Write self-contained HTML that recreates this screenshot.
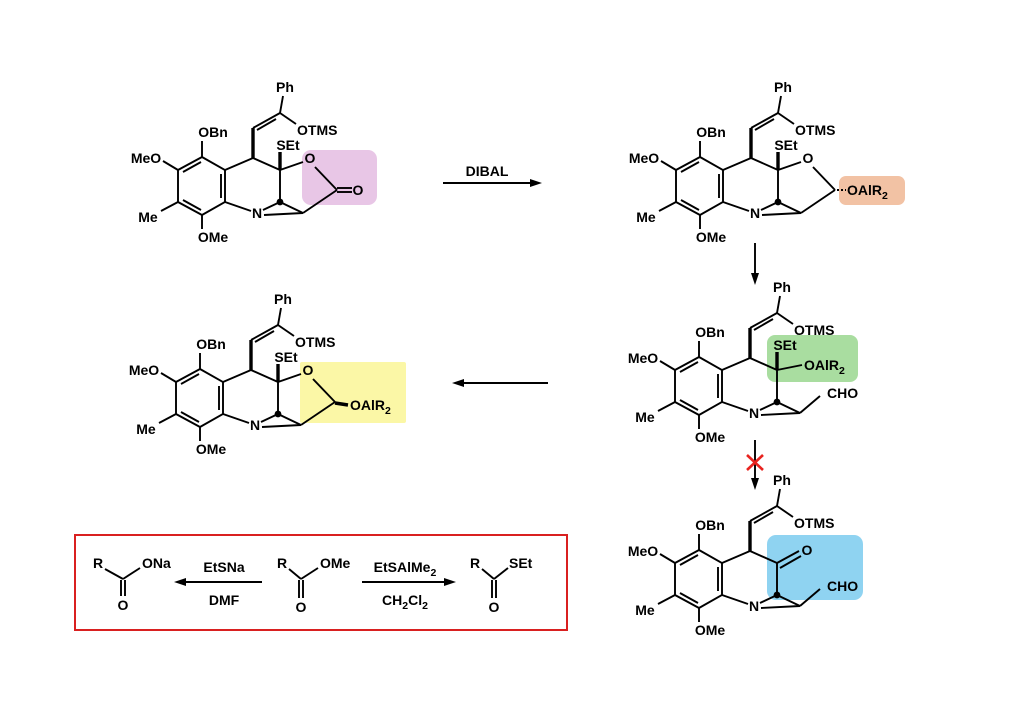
<!DOCTYPE html>
<html><head><meta charset="utf-8"><style>
body{margin:0;background:#fff}
svg{display:block}
text{font-family:"Liberation Sans",Arial,sans-serif;font-size:14px;font-weight:bold;fill:#000}
.s{font-size:10.5px}
line,polyline,polygon.r{stroke:#000;stroke-width:1.9;fill:none}
</style></head><body>
<svg width="1024" height="724" viewBox="0 0 1024 724" xmlns="http://www.w3.org/2000/svg">
<rect width="1024" height="724" fill="#fff"/>
<rect x="302" y="150" width="75" height="55" rx="9" fill="#e8c6e6"/>
<rect x="839" y="176" width="66" height="29" rx="7" fill="#f2c2a4"/>
<rect x="767" y="335" width="91" height="47" rx="8" fill="#a9dda0"/>
<rect x="767" y="535" width="96" height="65" rx="9" fill="#8fd3f1"/>
<rect x="300" y="362" width="106" height="61" rx="2" fill="#fbf7a6"/>

<g>
<text x="285" y="92" text-anchor="middle">Ph</text>
<line x1="283" y1="96" x2="280" y2="113"/>
<line x1="280" y1="113" x2="253" y2="128"/><line x1="276" y1="119" x2="257" y2="130"/>
<line x1="280" y1="113" x2="296" y2="124"/>
<text x="297" y="135">OTMS</text>
<line x1="253" y1="128" x2="253" y2="158" style="stroke-width:3.4"/>
<text x="213" y="137" text-anchor="middle">OBn</text>
<line x1="202" y1="141" x2="202" y2="157"/>
<polygon class="r" points="202,157 225,170 225,202 202,215 178,202 178,170"/>
<line x1="221" y1="174" x2="221" y2="198"/><line x1="183" y1="172" x2="201" y2="162"/><line x1="183" y1="200" x2="201" y2="210"/>
<line x1="225" y1="170" x2="253" y2="158"/><line x1="253" y1="158" x2="280" y2="170"/>
<text x="146" y="163" text-anchor="middle">MeO</text><line x1="178" y1="170" x2="163" y2="161"/>
<text x="148" y="222" text-anchor="middle">Me</text><line x1="178" y1="202" x2="161" y2="211"/>
<text x="213" y="242" text-anchor="middle">OMe</text><line x1="202" y1="215" x2="202" y2="229"/>
<line x1="225" y1="202" x2="251" y2="211"/>
<text x="257" y="218" text-anchor="middle">N</text>
<line x1="263" y1="210" x2="280" y2="202"/><line x1="264" y1="215" x2="303" y2="213"/>
<line x1="280" y1="170" x2="280" y2="202"/><line x1="280" y1="202" x2="303" y2="213"/>
<circle cx="280" cy="202" r="3.4" fill="#000"/>
<line x1="280" y1="170" x2="280" y2="152" style="stroke-width:3.4"/>
<text x="288" y="150" text-anchor="middle">SEt</text>
<line x1="280" y1="170" x2="303" y2="162"/>
<text x="310" y="163" text-anchor="middle">O</text>
<line x1="315" y1="167" x2="337" y2="190"/><line x1="337" y1="190" x2="303" y2="213"/>
<line x1="337" y1="188" x2="352" y2="188"/><line x1="337" y1="192" x2="352" y2="192"/>
<text x="358" y="195" text-anchor="middle">O</text>
</g>

<g transform="translate(498,0)">
<text x="285" y="92" text-anchor="middle">Ph</text>
<line x1="283" y1="96" x2="280" y2="113"/>
<line x1="280" y1="113" x2="253" y2="128"/><line x1="276" y1="119" x2="257" y2="130"/>
<line x1="280" y1="113" x2="296" y2="124"/>
<text x="297" y="135">OTMS</text>
<line x1="253" y1="128" x2="253" y2="158" style="stroke-width:3.4"/>
<text x="213" y="137" text-anchor="middle">OBn</text>
<line x1="202" y1="141" x2="202" y2="157"/>
<polygon class="r" points="202,157 225,170 225,202 202,215 178,202 178,170"/>
<line x1="221" y1="174" x2="221" y2="198"/><line x1="183" y1="172" x2="201" y2="162"/><line x1="183" y1="200" x2="201" y2="210"/>
<line x1="225" y1="170" x2="253" y2="158"/><line x1="253" y1="158" x2="280" y2="170"/>
<text x="146" y="163" text-anchor="middle">MeO</text><line x1="178" y1="170" x2="163" y2="161"/>
<text x="148" y="222" text-anchor="middle">Me</text><line x1="178" y1="202" x2="161" y2="211"/>
<text x="213" y="242" text-anchor="middle">OMe</text><line x1="202" y1="215" x2="202" y2="229"/>
<line x1="225" y1="202" x2="251" y2="211"/>
<text x="257" y="218" text-anchor="middle">N</text>
<line x1="263" y1="210" x2="280" y2="202"/><line x1="264" y1="215" x2="303" y2="213"/>
<line x1="280" y1="170" x2="280" y2="202"/><line x1="280" y1="202" x2="303" y2="213"/>
<circle cx="280" cy="202" r="3.4" fill="#000"/>
<line x1="280" y1="170" x2="280" y2="152" style="stroke-width:3.4"/>
<text x="288" y="150" text-anchor="middle">SEt</text>
<line x1="280" y1="170" x2="303" y2="162"/>
<text x="310" y="163" text-anchor="middle">O</text>
<line x1="315" y1="167" x2="337" y2="190"/><line x1="337" y1="190" x2="303" y2="213"/>
<line x1="339" y1="190" x2="348" y2="190" style="stroke-dasharray:2 2"/>
<text x="349" y="195">OAlR<tspan class="s" dy="4">2</tspan></text>
</g>

<g transform="translate(497,200)">
<text x="285" y="92" text-anchor="middle">Ph</text>
<line x1="283" y1="96" x2="280" y2="113"/>
<line x1="280" y1="113" x2="253" y2="128"/><line x1="276" y1="119" x2="257" y2="130"/>
<line x1="280" y1="113" x2="296" y2="124"/>
<text x="297" y="135">OTMS</text>
<line x1="253" y1="128" x2="253" y2="158" style="stroke-width:3.4"/>
<text x="213" y="137" text-anchor="middle">OBn</text>
<line x1="202" y1="141" x2="202" y2="157"/>
<polygon class="r" points="202,157 225,170 225,202 202,215 178,202 178,170"/>
<line x1="221" y1="174" x2="221" y2="198"/><line x1="183" y1="172" x2="201" y2="162"/><line x1="183" y1="200" x2="201" y2="210"/>
<line x1="225" y1="170" x2="253" y2="158"/><line x1="253" y1="158" x2="280" y2="170"/>
<text x="146" y="163" text-anchor="middle">MeO</text><line x1="178" y1="170" x2="163" y2="161"/>
<text x="148" y="222" text-anchor="middle">Me</text><line x1="178" y1="202" x2="161" y2="211"/>
<text x="213" y="242" text-anchor="middle">OMe</text><line x1="202" y1="215" x2="202" y2="229"/>
<line x1="225" y1="202" x2="251" y2="211"/>
<text x="257" y="218" text-anchor="middle">N</text>
<line x1="263" y1="210" x2="280" y2="202"/><line x1="264" y1="215" x2="303" y2="213"/>
<line x1="280" y1="170" x2="280" y2="202"/><line x1="280" y1="202" x2="303" y2="213"/>
<circle cx="280" cy="202" r="3.4" fill="#000"/>
<line x1="280" y1="170" x2="280" y2="152" style="stroke-width:3.4"/>
<text x="288" y="150" text-anchor="middle">SEt</text>
<line x1="280" y1="170" x2="305" y2="165"/>
<text x="307" y="170">OAlR<tspan class="s" dy="4">2</tspan></text>
<line x1="303" y1="213" x2="323" y2="196"/>
<text x="330" y="198">CHO</text>
</g>

<g transform="translate(497,393)">
<text x="285" y="92" text-anchor="middle">Ph</text>
<line x1="283" y1="96" x2="280" y2="113"/>
<line x1="280" y1="113" x2="253" y2="128"/><line x1="276" y1="119" x2="257" y2="130"/>
<line x1="280" y1="113" x2="296" y2="124"/>
<text x="297" y="135">OTMS</text>
<line x1="253" y1="128" x2="253" y2="158" style="stroke-width:3.4"/>
<text x="213" y="137" text-anchor="middle">OBn</text>
<line x1="202" y1="141" x2="202" y2="157"/>
<polygon class="r" points="202,157 225,170 225,202 202,215 178,202 178,170"/>
<line x1="221" y1="174" x2="221" y2="198"/><line x1="183" y1="172" x2="201" y2="162"/><line x1="183" y1="200" x2="201" y2="210"/>
<line x1="225" y1="170" x2="253" y2="158"/><line x1="253" y1="158" x2="280" y2="170"/>
<text x="146" y="163" text-anchor="middle">MeO</text><line x1="178" y1="170" x2="163" y2="161"/>
<text x="148" y="222" text-anchor="middle">Me</text><line x1="178" y1="202" x2="161" y2="211"/>
<text x="213" y="242" text-anchor="middle">OMe</text><line x1="202" y1="215" x2="202" y2="229"/>
<line x1="225" y1="202" x2="251" y2="211"/>
<text x="257" y="218" text-anchor="middle">N</text>
<line x1="263" y1="210" x2="280" y2="202"/><line x1="264" y1="215" x2="303" y2="213"/>
<line x1="280" y1="170" x2="280" y2="202"/><line x1="280" y1="202" x2="303" y2="213"/>
<circle cx="280" cy="202" r="3.4" fill="#000"/>
<line x1="280" y1="170" x2="302" y2="158"/><line x1="283" y1="175" x2="304" y2="163"/>
<text x="310" y="162" text-anchor="middle">O</text>
<line x1="303" y1="213" x2="323" y2="196"/>
<text x="330" y="198">CHO</text>
</g>

<g transform="translate(-2,212)">
<text x="285" y="92" text-anchor="middle">Ph</text>
<line x1="283" y1="96" x2="280" y2="113"/>
<line x1="280" y1="113" x2="253" y2="128"/><line x1="276" y1="119" x2="257" y2="130"/>
<line x1="280" y1="113" x2="296" y2="124"/>
<text x="297" y="135">OTMS</text>
<line x1="253" y1="128" x2="253" y2="158" style="stroke-width:3.4"/>
<text x="213" y="137" text-anchor="middle">OBn</text>
<line x1="202" y1="141" x2="202" y2="157"/>
<polygon class="r" points="202,157 225,170 225,202 202,215 178,202 178,170"/>
<line x1="221" y1="174" x2="221" y2="198"/><line x1="183" y1="172" x2="201" y2="162"/><line x1="183" y1="200" x2="201" y2="210"/>
<line x1="225" y1="170" x2="253" y2="158"/><line x1="253" y1="158" x2="280" y2="170"/>
<text x="146" y="163" text-anchor="middle">MeO</text><line x1="178" y1="170" x2="163" y2="161"/>
<text x="148" y="222" text-anchor="middle">Me</text><line x1="178" y1="202" x2="161" y2="211"/>
<text x="213" y="242" text-anchor="middle">OMe</text><line x1="202" y1="215" x2="202" y2="229"/>
<line x1="225" y1="202" x2="251" y2="211"/>
<text x="257" y="218" text-anchor="middle">N</text>
<line x1="263" y1="210" x2="280" y2="202"/><line x1="264" y1="215" x2="303" y2="213"/>
<line x1="280" y1="170" x2="280" y2="202"/><line x1="280" y1="202" x2="303" y2="213"/>
<circle cx="280" cy="202" r="3.4" fill="#000"/>
<line x1="280" y1="170" x2="280" y2="152" style="stroke-width:3.4"/>
<text x="288" y="150" text-anchor="middle">SEt</text>
<line x1="280" y1="170" x2="303" y2="162"/>
<text x="310" y="163" text-anchor="middle">O</text>
<line x1="315" y1="167" x2="337" y2="190"/><line x1="337" y1="190" x2="303" y2="213"/>
<line x1="337" y1="191" x2="350" y2="193" style="stroke-width:3.6"/>
<text x="352" y="198">OAlR<tspan class="s" dy="4">2</tspan></text>
</g>

<line x1="443" y1="183" x2="532" y2="183"/><polygon points="542,183 530,179 530,187" fill="#000"/>
<text x="487" y="176" text-anchor="middle">DIBAL</text>
<line x1="755" y1="243" x2="755" y2="275"/><polygon points="755,285 751,273 759,273" fill="#000"/>
<line x1="548" y1="383" x2="462" y2="383"/><polygon points="452,383 464,379 464,387" fill="#000"/>
<line x1="755" y1="440" x2="755" y2="480"/><polygon points="755,490 751,478 759,478" fill="#000"/>
<line x1="747" y1="455" x2="763" y2="470" style="stroke:#e8231f;stroke-width:2.6"/>
<line x1="763" y1="455" x2="747" y2="470" style="stroke:#e8231f;stroke-width:2.6"/>

<rect x="75" y="535" width="492" height="95" fill="none" stroke="#d92020" stroke-width="2"/>
<text x="98" y="568" text-anchor="middle">R</text>
<line x1="105" y1="569" x2="123" y2="579"/><line x1="123" y1="579" x2="140" y2="568"/>
<text x="142" y="568">ONa</text>
<line x1="121" y1="580" x2="121" y2="596"/><line x1="125" y1="580" x2="125" y2="596"/>
<text x="123" y="610" text-anchor="middle">O</text>
<line x1="262" y1="582" x2="184" y2="582"/><polygon points="174,582 186,578 186,586" fill="#000"/>
<text x="224" y="572" text-anchor="middle">EtSNa</text>
<text x="224" y="605" text-anchor="middle">DMF</text>
<text x="282" y="568" text-anchor="middle">R</text>
<line x1="289" y1="569" x2="301" y2="579"/><line x1="301" y1="579" x2="318" y2="568"/>
<text x="320" y="568">OMe</text>
<line x1="299" y1="580" x2="299" y2="598"/><line x1="303" y1="580" x2="303" y2="598"/>
<text x="301" y="612" text-anchor="middle">O</text>
<line x1="362" y1="582" x2="446" y2="582"/><polygon points="456,582 444,578 444,586" fill="#000"/>
<text x="405" y="572" text-anchor="middle">EtSAlMe<tspan class="s" dy="4">2</tspan></text>
<text x="405" y="605" text-anchor="middle">CH<tspan class="s" dy="4">2</tspan><tspan dy="-4">Cl</tspan><tspan class="s" dy="4">2</tspan></text>
<text x="475" y="568" text-anchor="middle">R</text>
<line x1="482" y1="569" x2="494" y2="579"/><line x1="494" y1="579" x2="508" y2="568"/>
<text x="509" y="568">SEt</text>
<line x1="492" y1="580" x2="492" y2="598"/><line x1="496" y1="580" x2="496" y2="598"/>
<text x="494" y="612" text-anchor="middle">O</text>
</svg>
</body></html>
